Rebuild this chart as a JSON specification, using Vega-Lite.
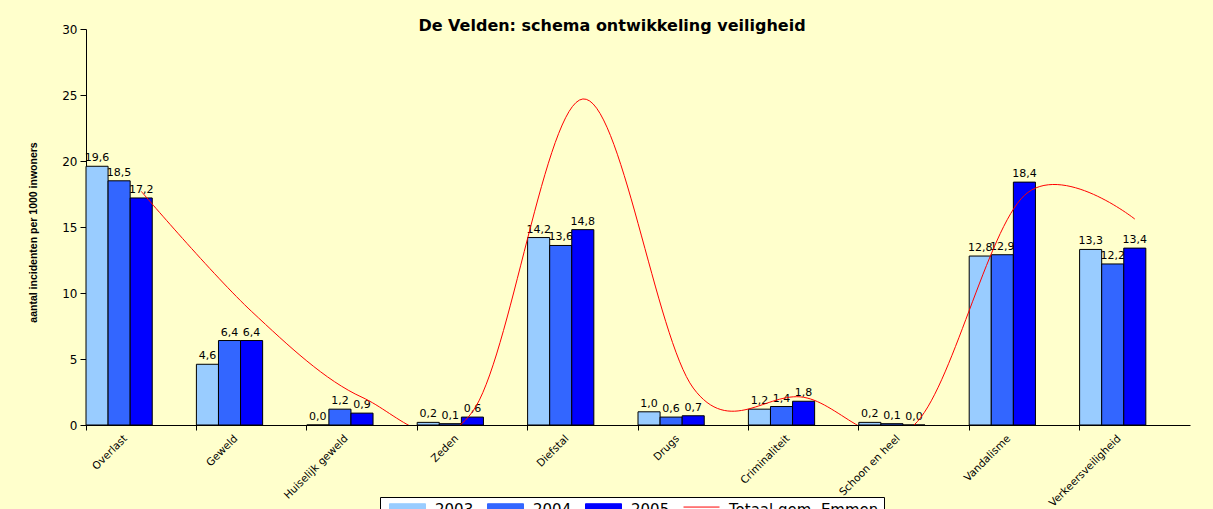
{
  "$schema": "https://vega.github.io/schema/vega-lite/v6.json",
  "width": 1104,
  "height": 396,
  "autosize": {"type": "none"},
  "padding": {"left": 86, "top": 29, "right": 23, "bottom": 84},
  "background": "#FFFFCC",
  "config": {
    "view": {"stroke": null},
    "locale": {"number": {"decimal": ",", "thousands": ".", "grouping": [3], "currency": ["€", ""]}}
  },
  "title": {
    "text": "De Velden: schema ontwikkeling veiligheid",
    "font": "DejaVu Sans",
    "fontSize": 16,
    "fontWeight": "bold",
    "color": "#000000",
    "anchor": "middle",
    "frame": "group",
    "baseline": "alphabetic",
    "offset": -24,
    "dx": -26
  },
  "datasets": {
    "bars": [
      {"cat": "Overlast", "series": "2003", "value": 19.6},
      {"cat": "Overlast", "series": "2004", "value": 18.5},
      {"cat": "Overlast", "series": "2005", "value": 17.2},
      {"cat": "Geweld", "series": "2003", "value": 4.6},
      {"cat": "Geweld", "series": "2004", "value": 6.4},
      {"cat": "Geweld", "series": "2005", "value": 6.4},
      {"cat": "Huiselijk geweld", "series": "2003", "value": 0.0},
      {"cat": "Huiselijk geweld", "series": "2004", "value": 1.2},
      {"cat": "Huiselijk geweld", "series": "2005", "value": 0.9},
      {"cat": "Zeden", "series": "2003", "value": 0.2},
      {"cat": "Zeden", "series": "2004", "value": 0.1},
      {"cat": "Zeden", "series": "2005", "value": 0.6},
      {"cat": "Diefstal", "series": "2003", "value": 14.2},
      {"cat": "Diefstal", "series": "2004", "value": 13.6},
      {"cat": "Diefstal", "series": "2005", "value": 14.8},
      {"cat": "Drugs", "series": "2003", "value": 1.0},
      {"cat": "Drugs", "series": "2004", "value": 0.6},
      {"cat": "Drugs", "series": "2005", "value": 0.7},
      {"cat": "Criminaliteit", "series": "2003", "value": 1.2},
      {"cat": "Criminaliteit", "series": "2004", "value": 1.4},
      {"cat": "Criminaliteit", "series": "2005", "value": 1.8},
      {"cat": "Schoon en heel", "series": "2003", "value": 0.2},
      {"cat": "Schoon en heel", "series": "2004", "value": 0.1},
      {"cat": "Schoon en heel", "series": "2005", "value": 0.0},
      {"cat": "Vandalisme", "series": "2003", "value": 12.8},
      {"cat": "Vandalisme", "series": "2004", "value": 12.9},
      {"cat": "Vandalisme", "series": "2005", "value": 18.4},
      {"cat": "Verkeersveiligheid", "series": "2003", "value": 13.3},
      {"cat": "Verkeersveiligheid", "series": "2004", "value": 12.2},
      {"cat": "Verkeersveiligheid", "series": "2005", "value": 13.4}
    ],
    "line": [
      {"cat": "Overlast", "series": "Totaal gem. Emmen", "value": 17.7},
      {"cat": "Geweld", "series": "Totaal gem. Emmen", "value": 8.6},
      {"cat": "Huiselijk geweld", "series": "Totaal gem. Emmen", "value": 2.1},
      {"cat": "Zeden", "series": "Totaal gem. Emmen", "value": 1.0},
      {"cat": "Diefstal", "series": "Totaal gem. Emmen", "value": 24.7},
      {"cat": "Drugs", "series": "Totaal gem. Emmen", "value": 2.8},
      {"cat": "Criminaliteit", "series": "Totaal gem. Emmen", "value": 2.1},
      {"cat": "Schoon en heel", "series": "Totaal gem. Emmen", "value": 0.0},
      {"cat": "Vandalisme", "series": "Totaal gem. Emmen", "value": 17.4},
      {"cat": "Verkeersveiligheid", "series": "Totaal gem. Emmen", "value": 15.6}
    ]
  },
  "encoding": {
    "x": {
      "field": "cat",
      "type": "nominal",
      "sort": null,
      "scale": {
        "domain": ["Overlast", "Geweld", "Huiselijk geweld", "Zeden", "Diefstal", "Drugs", "Criminaliteit", "Schoon en heel", "Vandalisme", "Verkeersveiligheid"],
        "paddingInner": 0.4,
        "paddingOuter": 0.2,
        "align": 0
      },
      "axis": {
        "title": null,
        "bandPosition": 0,
        "labelOffset": 3,
        "labelAngle": -45,
        "labelFont": "DejaVu Sans",
        "labelFontSize": 10.5,
        "labelColor": "#000000",
        "labelPadding": 3,
        "tickColor": "#000000",
        "tickSize": 5,
        "domainColor": "#000000",
        "grid": false
      }
    },
    "y": {
      "field": "value",
      "type": "quantitative",
      "stack": null,
      "scale": {"domain": [0, 30], "nice": false, "zero": true},
      "axis": {
        "title": "aantal incidenten per 1000 inwoners",
        "titleFont": "Liberation Sans",
        "titleFontSize": 10.5,
        "titleFontWeight": "bold",
        "titleColor": "#000000",
        "titleX": -48,
        "titleY": 203,
        "titleAlign": "center",
        "titleBaseline": "bottom",
        "titleAngle": -90,
        "values": [0, 5, 10, 15, 20, 25, 30],
        "labelFont": "DejaVu Sans",
        "labelFontSize": 12,
        "labelColor": "#000000",
        "labelPadding": 3,
        "tickColor": "#000000",
        "tickSize": 6,
        "domainColor": "#000000",
        "grid": false
      }
    }
  },
  "layer": [
    {
      "data": {"name": "bars"},
      "mark": {"type": "bar", "stroke": "#000000", "strokeWidth": 1},
      "encoding": {
        "xOffset": {
          "field": "series",
          "type": "nominal",
          "scale": {"domain": ["2003", "2004", "2005"], "paddingInner": 0, "paddingOuter": 0}
        },
        "color": {
          "field": "series",
          "type": "nominal",
          "scale": {
            "domain": ["2003", "2004", "2005", "Totaal gem. Emmen"],
            "range": ["#99CCFF", "#3366FF", "#0000FF", "#FF0000"]
          }
        }
      }
    },
    {
      "data": {"name": "bars"},
      "mark": {"type": "text", "font": "DejaVu Sans", "fontSize": 11, "baseline": "bottom", "dy": -3, "color": "#000000"},
      "encoding": {
        "xOffset": {"field": "series", "type": "nominal"},
        "text": {"field": "value", "type": "quantitative", "format": ".1f"}
      }
    },
    {
      "data": {"name": "line"},
      "mark": {"type": "line", "strokeWidth": 1, "interpolate": "cardinal", "tension": 0, "clip": true},
      "encoding": {
        "x": {"field": "cat", "type": "nominal", "sort": null, "bandPosition": 0.834},
        "color": {
          "field": "series",
          "type": "nominal",
          "legend": {
            "orient": "none",
            "legendX": 294,
            "legendY": 468,
            "direction": "horizontal",
            "title": null,
            "fillColor": "#FFFFFF",
            "strokeColor": "#000000",
            "padding": 5,
            "labelFont": "DejaVu Sans",
            "labelFontSize": 15,
            "labelColor": "#000000",
            "symbolSize": 144,
            "labelOffset": 35,
            "columnPadding": 9,
            "symbolType": "M-0.5,-1H5.5V1H-0.5Z",
            "encode": {
              "symbols": {
                "update": {
                  "shape": {"signal": "datum.value === 'Totaal gem. Emmen' ? 'M-0.5,-0.45H5.5' : 'M-0.5,-1H5.5V1H-0.5Z'"},
                  "fill": {"signal": "datum.value === 'Totaal gem. Emmen' ? 'transparent' : scale('color', datum.value)"},
                  "stroke": {"signal": "datum.value === 'Totaal gem. Emmen' ? '#FF0000' : '#000000'"},
                  "strokeWidth": {"value": 1},
                  "opacity": {"value": 1}
                }
              }
            }
          }
        }
      }
    }
  ]
}
